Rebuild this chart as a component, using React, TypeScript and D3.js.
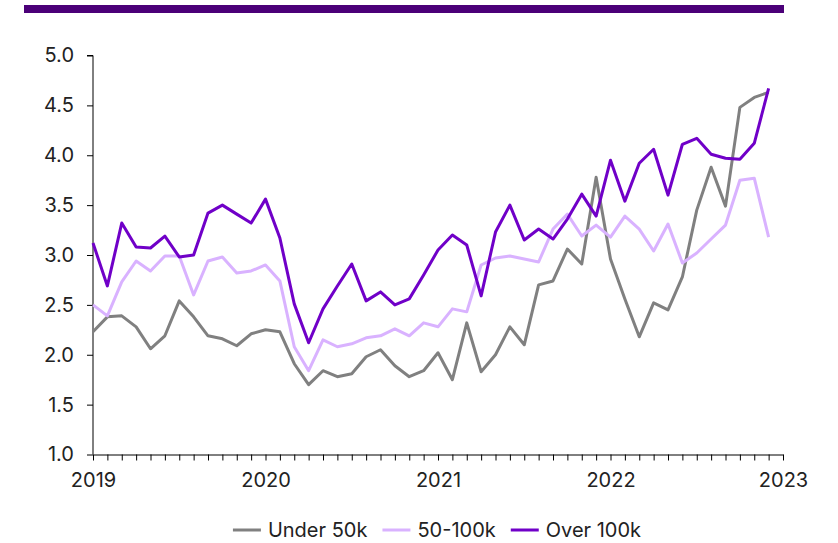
import React, { useEffect, useRef } from "react";
import * as d3 from "d3";

// monthly, Jan 2019 - Dec 2022
const months = d3.range(48).map((i) => new Date(2019, i, 1));

const under50k = [
  2.23, 2.38, 2.39, 2.28, 2.06, 2.19, 2.54, 2.38, 2.19, 2.16, 2.09, 2.21,
  2.25, 2.23, 1.91, 1.70, 1.84, 1.78, 1.81, 1.98, 2.05, 1.89, 1.78, 1.84,
  2.02, 1.75, 2.32, 1.83, 2.00, 2.28, 2.10, 2.70, 2.74, 3.06, 2.91, 3.78,
  2.96, 2.56, 2.18, 2.52, 2.45, 2.78, 3.45, 3.88, 3.49, 4.48, 4.58, 4.63,
];

const mid50to100k = [
  2.50, 2.39, 2.73, 2.94, 2.84, 2.99, 2.99, 2.60, 2.94, 2.98, 2.82, 2.84,
  2.90, 2.74, 2.08, 1.84, 2.15, 2.08, 2.11, 2.17, 2.19, 2.26, 2.19, 2.32,
  2.28, 2.46, 2.43, 2.90, 2.97, 2.99, 2.96, 2.93, 3.26, 3.41, 3.19, 3.30,
  3.18, 3.39, 3.26, 3.04, 3.31, 2.92, 3.02, 3.16, 3.30, 3.75, 3.77, 3.18,
];

const over100k = [
  3.12, 2.69, 3.32, 3.08, 3.07, 3.19, 2.98, 3.00, 3.42, 3.50, 3.41, 3.32,
  3.56, 3.17, 2.51, 2.12, 2.46, 2.69, 2.91, 2.54, 2.63, 2.50, 2.56, 2.80,
  3.05, 3.20, 3.10, 2.59, 3.23, 3.50, 3.15, 3.26, 3.16, 3.36, 3.61, 3.39,
  3.95, 3.54, 3.92, 4.06, 3.60, 4.11, 4.17, 4.01, 3.97, 3.96, 4.12, 4.67,
];

const yTicks = [1.0, 1.5, 2.0, 2.5, 3.0, 3.5, 4.0, 4.5, 5.0];
const yearLabels = ["2019", "2020", "2021", "2022", "2023"];

const seriesNames = ["Under 50k", "50-100k", "Over 100k"];
const seriesColors = ["#808080", "#d9b2ff", "#7000c8"];

const W = 838, H = 543;
const FONT = "Inter, 'Noto Sans', sans-serif";
const FS = 20;

export default function App() {
  const ref = useRef<SVGSVGElement>(null);

  useEffect(() => {
    const svg = d3.select(ref.current);
    svg.selectAll("*").remove();

    const left = 93, right = 783, top = 55.5, bottom = 454.5;

    // header bar
    svg.append("rect")
      .attr("x", 24).attr("y", 5)
      .attr("width", 760).attr("height", 8)
      .attr("fill", "#4b0078");

    const x = d3.scaleLinear().domain([0, 48]).range([left, right]);
    const y = d3.scaleLinear().domain([1, 5]).range([bottom, top]);

    // y axis
    const yAxis = svg.append("g")
      .attr("transform", `translate(${left},0)`)
      .call(d3.axisLeft(y).tickValues(yTicks).tickFormat(d3.format(".1f")).tickSize(6).tickPadding(13));
    yAxis.select(".domain").attr("stroke", "#000").attr("d", `M-6,${top}H0V${bottom}`);
    yAxis.selectAll("text")
      .attr("font-family", FONT).attr("font-size", FS).attr("fill", "#222");

    // x axis: monthly ticks, year labels
    const xAxis = svg.append("g")
      .attr("transform", `translate(0,${bottom})`)
      .call(d3.axisBottom(x).tickValues(d3.range(49)).tickSize(6).tickSizeOuter(0)
        .tickFormat((d) => (+d % 12 === 0 ? yearLabels[+d / 12] : "")).tickPadding(12));
    xAxis.select(".domain").attr("stroke", "#000");
    xAxis.selectAll("text")
      .attr("font-family", FONT).attr("font-size", FS).attr("fill", "#222");

    const line = d3.line<number>()
      .x((d, i) => x(i))
      .y((d) => y(d));

    [under50k, mid50to100k, over100k].forEach((vals, i) => {
      svg.append("path")
        .datum(vals)
        .attr("fill", "none")
        .attr("stroke", seriesColors[i])
        .attr("stroke-width", 3)
        .attr("stroke-linejoin", "round")
        .attr("d", line);
    });

    // legend, laid out from measured text widths
    const lg = svg.append("g");
    let cx = 0;
    seriesNames.forEach((name, i) => {
      lg.append("line")
        .attr("x1", cx).attr("x2", cx + 28)
        .attr("y1", 0).attr("y2", 0)
        .attr("stroke", seriesColors[i]).attr("stroke-width", 3);
      const t = lg.append("text")
        .attr("x", cx + 35).attr("y", 0).attr("dy", "0.35em")
        .attr("font-family", FONT).attr("font-size", FS).attr("fill", "#222")
        .text(name);
      const w = (t.node() as SVGTextElement).getComputedTextLength();
      cx += 35 + w + 15;
    });
    const total = cx - 15;
    lg.attr("transform", `translate(${437 - total / 2},530)`);
  }, []);

  return (
    <svg
      ref={ref}
      width={W}
      height={H}
      style={{ position: "absolute", left: 0, top: 0, display: "block" }}
    />
  );
}
